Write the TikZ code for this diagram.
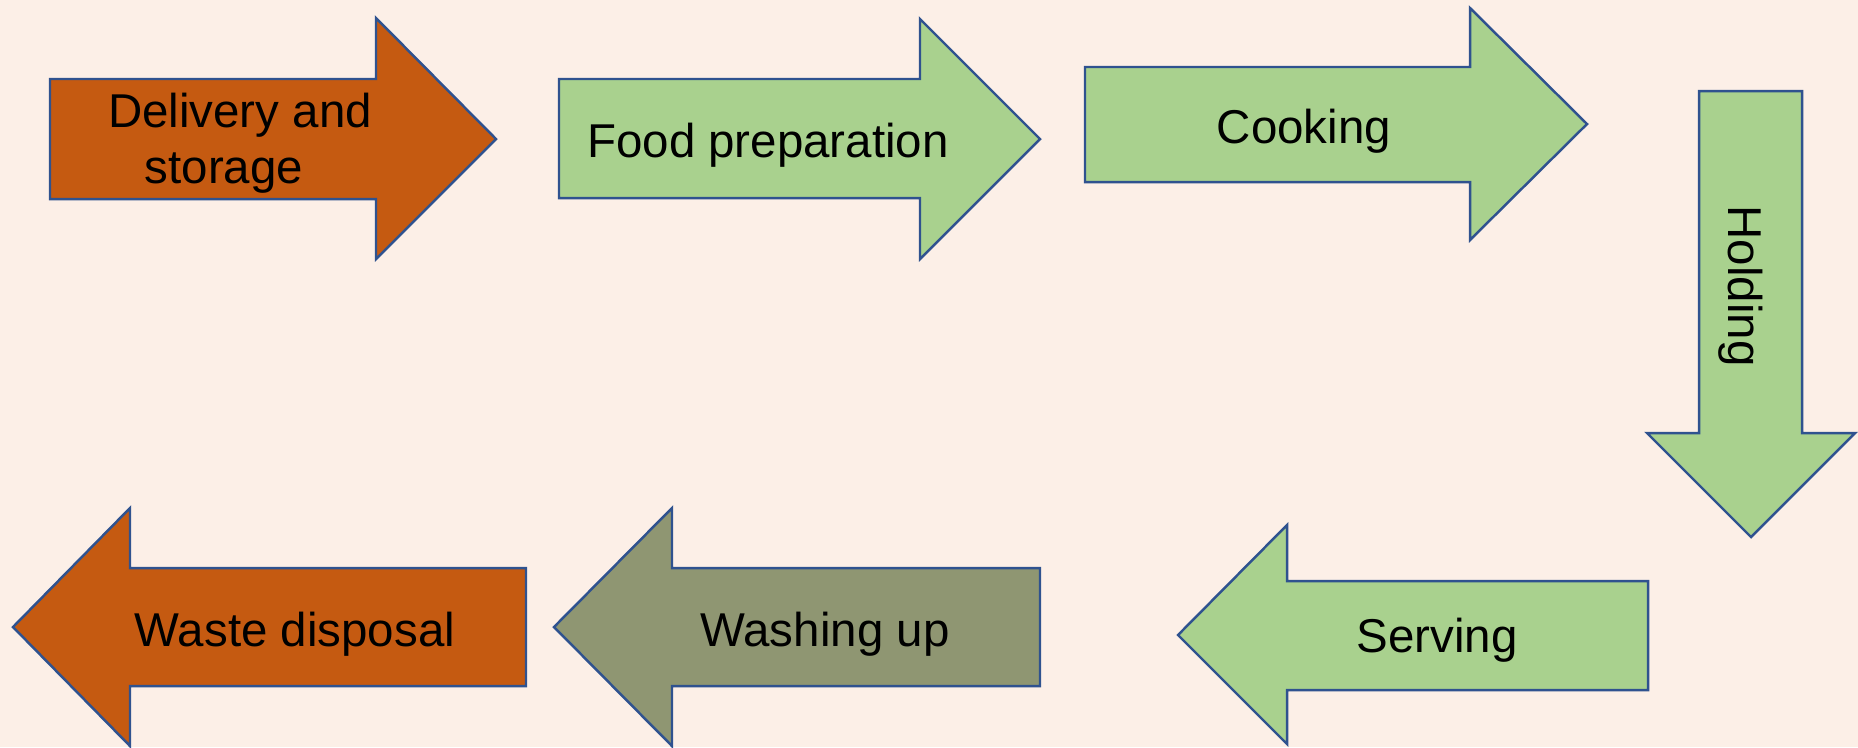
\documentclass[tikz,border=0pt]{standalone}
\usepackage{fontspec}
\setmainfont{Liberation Sans}
\usepackage{tikz}
\definecolor{bgpeach}{RGB}{252,239,231}
\definecolor{rust}{RGB}{197,90,17}
\definecolor{leaf}{RGB}{169,209,142}
\definecolor{olive}{RGB}{143,150,114}
\definecolor{rim}{RGB}{47,82,143}

\begin{document}
\begin{tikzpicture}[x=0.01cm,y=-0.01cm,stage/.style={draw=rim,line width=0.7pt,line join=miter},lbl/.style={anchor=base,inner sep=0pt,align=center,font=\fontsize{13.5pt}{15.7pt}\selectfont}]
\path[use as bounding box,fill=bgpeach] (0,0) rectangle (1858,747);

\draw[stage,fill=rust] (50,79) -- (376,79) -- (376,18) -- (496,139) -- (376,259) -- (376,199) -- (50,199) -- cycle;
\draw[stage,fill=leaf] (559,79) -- (920,79) -- (920,19) -- (1040,139) -- (920,259) -- (920,198) -- (559,198) -- cycle;
\draw[stage,fill=leaf] (1085,67) -- (1470,67) -- (1470,8) -- (1587,124) -- (1470,240) -- (1470,182) -- (1085,182) -- cycle;
\draw[stage,fill=leaf] (1699,91) -- (1802,91) -- (1802,433) -- (1855,433) -- (1751,537) -- (1647,433) -- (1699,433) -- cycle;
\draw[stage,fill=leaf] (1648,581) -- (1287,581) -- (1287,525) -- (1178,635) -- (1287,744) -- (1287,690) -- (1648,690) -- cycle;
\draw[stage,fill=olive] (1040,568) -- (672,568) -- (672,508) -- (554,627) -- (672,746) -- (672,686) -- (1040,686) -- cycle;
\draw[stage,fill=rust] (526,568) -- (130,568) -- (130,508) -- (13,627) -- (130,746) -- (130,686) -- (526,686) -- cycle;

\node[lbl] (n0) at (240,183) {Delivery and\\storage\hspace*{0.32cm}};
\node[lbl] (n1) at (768,157) {Food preparation};
\node[lbl] (n2) at (1304,143) {Cooking};
\node[lbl,rotate=-90] (n3) at (1728,286) {Holding};
\node[lbl] (n4) at (1437,652) {Serving};
\node[lbl] (n5) at (825,646) {Washing up};
\node[lbl] (n6) at (295,646) {Waste disposal};
\end{tikzpicture}
\end{document}
